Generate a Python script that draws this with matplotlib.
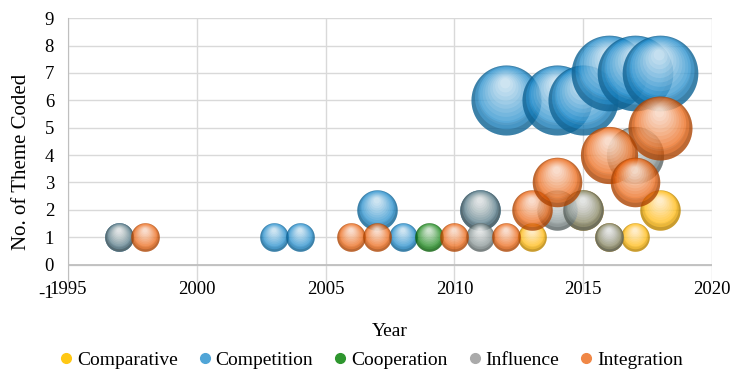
import numpy as np
import matplotlib
matplotlib.use("Agg")
import matplotlib.pyplot as plt
from matplotlib.path import Path
from matplotlib.lines import Line2D

plt.rcParams["font.family"] = ["Liberation Serif", "DejaVu Serif"]
plt.rcParams["axes.unicode_minus"] = False

SERIES = ["Comparative", "Competition", "Cooperation", "Influence", "Integration"]

comparative_year = [2013, 2015, 2016, 2017, 2018]
comparative_count = [1, 2, 1, 1, 2]

competition_year = [1997, 2003, 2004, 2007, 2008, 2011, 2012, 2014, 2015, 2016, 2017, 2018]
competition_count = [1, 1, 1, 2, 1, 2, 6, 6, 6, 7, 7, 7]

cooperation_year = [2009]
cooperation_count = [1]

influence_year = [1997, 2011, 2011, 2014, 2015, 2016, 2017]
influence_count = [1, 2, 1, 2, 2, 1, 4]

integration_year = [1998, 2006, 2007, 2010, 2012, 2013, 2014, 2016, 2017, 2018]
integration_count = [1, 1, 1, 1, 1, 2, 3, 4, 3, 5]

# colour drawn with alpha, and colour as it looks on white (legend)
BODY = ["#FFB600", "#1687CA", "#0F820F", "#7E8C8C", "#EB5F08"]
LOOK = ["#FFC814", "#50A5D7", "#2E962E", "#AAAAAA", "#F08746"]


def ring(r, cx, cy, n=72, reverse=False):
    t = np.linspace(0, 2 * np.pi, n, endpoint=False)
    if reverse:
        t = t[::-1]
    return np.column_stack([cx + r * np.cos(t), cy + r * np.sin(t)])


def marker(*rings):
    # two lone points at the corners keep the unit scale of the 'o' marker
    verts = [(-1, -1), (1, 1)]
    codes = [Path.MOVETO, Path.MOVETO]
    for v in rings:
        verts += list(map(tuple, v)) + [tuple(v[0])]
        codes += [Path.MOVETO] + [Path.LINETO] * (len(v) - 1) + [Path.CLOSEPOLY]
    return Path(verts, codes)


LAYERS = [
    (marker(ring(1, 0, 0)), None, 0.76),
    (marker(ring(1, 0, 0), ring(0.9, 0, 0.08, reverse=True)), "black", 0.14),
    (marker(ring(1, 0, 0), ring(0.8, 0, 0.16, reverse=True)), "black", 0.08),
]
for k in range(10):
    r = 0.82 - k * 0.075
    LAYERS.append((marker(ring(r, -0.04 * (1 - r), 0.55 * (1 - r) + 0.02)),
                   "white", 0.07 + 0.012 * k))

SIZE_ONE = 424


def bubbles(ax, years, counts, color):
    for x, y in zip(years, counts):
        for path, c, a in LAYERS:
            ax.scatter([x], [y], s=[SIZE_ONE * y], marker=path,
                       color=color if c is None else c, alpha=a,
                       linewidths=0, zorder=3)


fig = plt.figure(figsize=(7.34, 3.70), dpi=100)
ax = fig.add_axes([0.0926, 0.211, 0.8774, 0.740])

data = [
    (comparative_year, comparative_count),
    (competition_year, competition_count),
    (cooperation_year, cooperation_count),
    (influence_year, influence_count),
    (integration_year, integration_count),
]
for (yr, ct), col in zip(data, BODY):
    bubbles(ax, yr, ct, col)

ax.set_xlim(1995, 2020)
ax.set_ylim(-1, 9)
ax.set_xticks(range(1995, 2021, 5))
ax.set_yticks(range(-1, 10))
ax.set_axisbelow(True)
ax.grid(True, color="#D9D9D9", linewidth=1.0)
ax.get_ygridlines()[0].set_visible(False)
ax.axhline(0, color="#BFBFBF", linewidth=1.3, zorder=1)

for side in ["top", "right", "bottom"]:
    ax.spines[side].set_visible(False)
ax.spines["left"].set_color("#BFBFBF")

ax.tick_params(axis="both", length=0, labelsize=13.5)
ax.tick_params(axis="x", pad=-8)
ax.tick_params(axis="y", pad=10)

ax.set_xlabel("Year", fontsize=14)
ax.xaxis.set_label_coords(0.5, -0.113)
ax.set_ylabel("No. of Theme Coded", fontsize=15)
ax.yaxis.set_label_coords(-0.058, 0.474)

handles = [Line2D([], [], linestyle="none", marker="o", markersize=7,
                  markerfacecolor=c, markeredgecolor=c) for c in LOOK]
fig.legend(handles, SERIES, loc="center", bbox_to_anchor=(0.505, 0.027),
           ncol=5, frameon=False, handletextpad=0.15,
           prop={"family": "Liberation Serif", "size": 14},
           columnspacing=1.0, handlelength=0.8)

fig.savefig("out.png", dpi=100)
